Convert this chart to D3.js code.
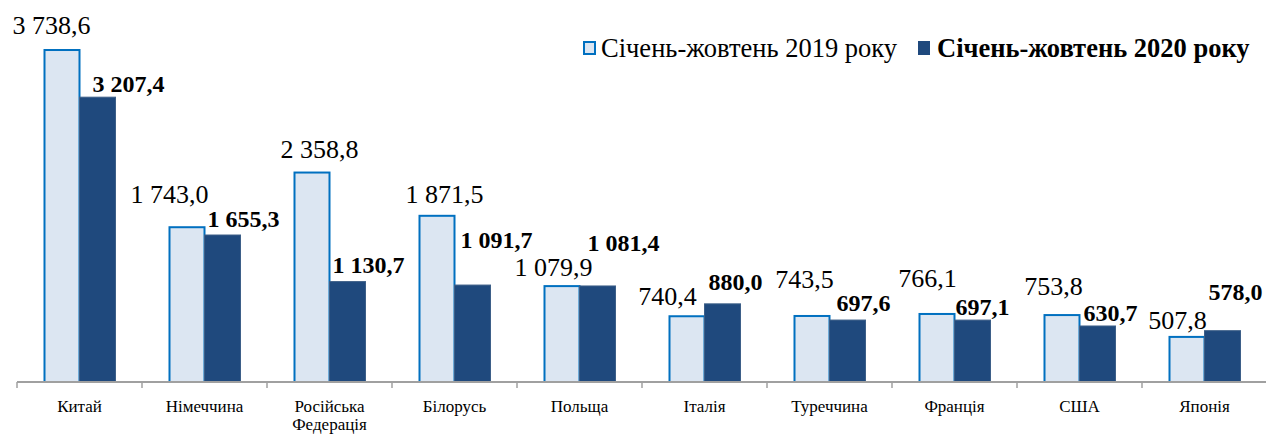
<!DOCTYPE html>
<html>
<head>
<meta charset="utf-8">
<script src="https://cdn.jsdelivr.net/npm/d3@7"></script>
<style>
  html, body { margin: 0; padding: 0; background: #fff; }
  svg { display: block; }
  svg text, svg g text, svg .tick text { font-family: "Liberation Serif", "Times New Roman", serif !important; }
</style>
</head>
<body>
<svg id="chart" width="1266" height="434"></svg>
<script>
// ---- data ----
const categories = ["Китай", "Німеччина", "Російська Федерація", "Білорусь", "Польща",
                    "Італія", "Туреччина", "Франція", "США", "Японія"];
const values2019 = [3738.6, 1743.0, 2358.8, 1871.5, 1079.9, 740.4, 743.5, 766.1, 753.8, 507.8];
const values2020 = [3207.4, 1655.3, 1130.7, 1091.7, 1081.4, 880.0, 697.6, 697.1, 630.7, 578.0];
const seriesNames = ["Січень-жовтень 2019 року", "Січень-жовтень 2020 року"];

// ---- layout tweaks for value labels: [dx from bar centre, gap above bar top] ----
const labelNudge2019 = [[-10, 16], [-17, 24], [8, 15], [8, 13], [-8, 10], [-19, 11], [-7, 28], [-9, 27], [-8, 20], [-9, 8]];
const labelNudge2020 = [[31, 5], [21, 8], [21, 9], [24, 37], [26, 35], [13, 14], [16, 9], [10, 5], [13, 5], [13, 31]];

const FONT = "'Liberation Serif', 'Times New Roman', serif";
const svg = d3.select("#chart");
const baseY = 382;

function serif(sel) {
  return sel.attr("font-family", "Liberation Serif").style("font-family", FONT);
}

const x = d3.scaleBand().domain(categories).range([17, 1267]).paddingInner(0.424).paddingOuter(0.212);
const xs = d3.scaleBand().domain([0, 1]).range([0, x.bandwidth()]);
const y = d3.scaleLinear().domain([0, 4000]).range([baseY, 26.8]);

const loc = d3.formatLocale({ decimal: ",", thousands: " ", grouping: [3], currency: ["", ""] });
const fmt = loc.format(",.1f");

const rows = categories.map((c, i) => ({ c, i, v: [values2019[i], values2020[i]] }));

// ---- bars ----
const g = svg.selectAll("g.cat").data(rows).join("g").attr("class", "cat")
  .attr("transform", d => `translate(${x(d.c)},0)`);

g.append("rect")
  .attr("x", xs(0) + 1).attr("width", xs.bandwidth() - 1)
  .attr("y", d => y(d.v[0])).attr("height", d => baseY - y(d.v[0]))
  .attr("fill", "#dce6f2").attr("stroke", "#0070c0").attr("stroke-width", 2);

g.append("rect")
  .attr("x", xs(1)).attr("width", xs.bandwidth())
  .attr("y", d => y(d.v[1])).attr("height", d => baseY - y(d.v[1]))
  .attr("fill", "#1f497d").attr("stroke", "#3d5f88").attr("stroke-width", 1);

// ---- axis ----
const step = x.step();
const axisG = svg.append("g").attr("transform", `translate(0,${baseY})`)
  .call(d3.axisBottom(x).tickSize(0).tickPadding(0));
axisG.attr("font-family", null);
axisG.select(".domain").remove();
axisG.selectAll(".tick text").remove();

svg.append("line").attr("x1", 17).attr("x2", 1266).attr("y1", baseY).attr("y2", baseY)
  .attr("stroke", "#a0a0a0").attr("stroke-width", 2);

const boundaries = categories.map(c => x(c) - step * x.paddingInner() / 2)
  .concat([x(categories[categories.length - 1]) + x.bandwidth() + step * x.paddingInner() / 2]);
svg.selectAll("line.tk").data(boundaries).join("line").attr("class", "tk")
  .attr("x1", d => d).attr("x2", d => d).attr("y1", baseY).attr("y2", baseY + 6)
  .attr("stroke", "#a0a0a0").attr("stroke-width", 1.5);

axisG.selectAll(".tick").each(function(c) {
  const t = serif(d3.select(this).append("text"))
    .attr("text-anchor", "middle").attr("y", 30)
    .attr("font-size", 17).attr("fill", "#000");
  c.split(" ").forEach((w, k) => {
    t.append("tspan").attr("x", 0).attr("dy", k === 0 ? 0 : 18).text(w);
  });
});

// ---- value labels ----
serif(g.append("text"))
  .attr("text-anchor", "middle")
  .attr("x", d => xs(0) + xs.bandwidth() / 2 + labelNudge2019[d.i][0])
  .attr("y", d => y(d.v[0]) - labelNudge2019[d.i][1])
  .attr("font-size", 26).attr("fill", "#000")
  .text(d => fmt(d.v[0]));

serif(g.append("text"))
  .attr("text-anchor", "middle")
  .attr("x", d => xs(1) + xs.bandwidth() / 2 + labelNudge2020[d.i][0])
  .attr("y", d => y(d.v[1]) - labelNudge2020[d.i][1])
  .attr("font-size", 24).attr("font-weight", "bold").attr("fill", "#000")
  .text(d => fmt(d.v[1]));

// ---- legend ----
const legend = svg.append("g");
const l1 = legend.append("g").attr("transform", "translate(583,0)");
l1.append("rect").attr("x", 1).attr("y", 42).attr("width", 11).attr("height", 12)
  .attr("fill", "#dce6f2").attr("stroke", "#0070c0").attr("stroke-width", 2);
serif(l1.append("text")).attr("x", 18).attr("y", 57).attr("font-size", 26.5)
  .attr("fill", "#000").text(seriesNames[0]);

const l2 = legend.append("g").attr("transform", "translate(918,0)");
l2.append("rect").attr("x", 0).attr("y", 41).attr("width", 12).attr("height", 14)
  .attr("fill", "#1f497d");
serif(l2.append("text")).attr("x", 19).attr("y", 57).attr("font-size", 26.5)
  .attr("font-weight", "bold").attr("fill", "#000").text(seriesNames[1]);
</script>
</body>
</html>
